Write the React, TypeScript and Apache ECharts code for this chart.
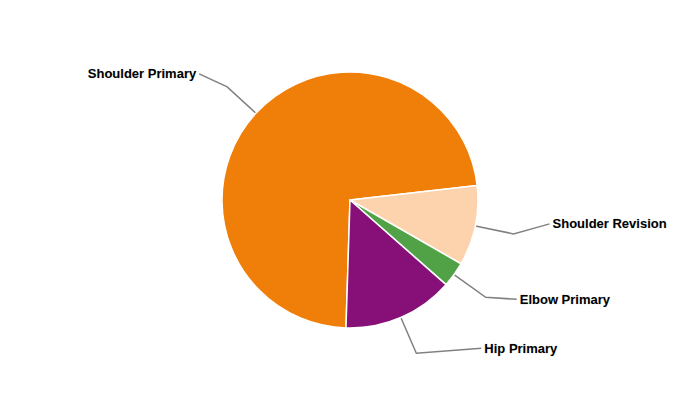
import React, { useEffect, useRef } from "react";
import * as echarts from "echarts";

const categories = ["Shoulder Primary", "Shoulder Revision", "Elbow Primary", "Hip Primary"];
const values = [72.7, 10.1, 3.2, 14.0];
const colors = ["#F07F09", "#FDD3AE", "#51A246", "#871078"];
// label end-point nudges (dx, dy) relative to the default ECharts layout
const labelShiftX = [2, 6, 1, 35];
const labelShiftY = [-13, -10, 2, -5];

export default function App() {
  const ref = useRef<HTMLDivElement>(null);
  useEffect(() => {
    if (!ref.current) return;
    const chart = echarts.init(ref.current, undefined, { renderer: "svg" });
    chart.setOption({
      animation: false,
      backgroundColor: "#ffffff",
      series: [
        {
          type: "pie",
          center: [350, 200],
          radius: 128,
          startAngle: 268.2,
          clockwise: true,
          avoidLabelOverlap: false,
          data: categories.map((name, i) => ({
            name,
            value: values[i],
            itemStyle: { color: colors[i] },
          })),
          itemStyle: { borderColor: "#ffffff", borderWidth: 1.5 },
          label: {
            show: true,
            position: "outside",
            formatter: "{b}",
            color: "#000000",
            fontFamily: "'Liberation Sans', Arial, sans-serif",
            fontWeight: "bold",
            fontSize: 13,
            textBorderColor: "rgba(0,0,0,0.25)",
            textBorderWidth: 0.4,
            distanceToLabelLine: 3,
          },
          labelLine: {
            show: true,
            length: 39,
            length2: 30,
            smooth: false,
            minTurnAngle: 0,
            maxSurfaceAngle: 180,
            lineStyle: { color: "#808080", width: 1.5 },
          },
          emphasis: { disabled: true },
          labelLayout: (params: any) => {
            const pts = params.labelLinePoints;
            if (!pts || pts.length < 3) return {};
            const i = params.dataIndex;
            const p0 = pts[0];
            const p1 = pts[1];
            const end = [pts[2][0] + labelShiftX[i], pts[2][1] + labelShiftY[i]];
            const left = end[0] < p1[0];
            return {
              x: end[0] + (left ? -3 : 3),
              y: end[1],
              align: left ? "right" : "left",
              verticalAlign: "middle",
              labelLinePoints: [p0, p1, end],
            };
          },
        },
      ],
    });
    return () => chart.dispose();
  }, []);
  return <div ref={ref} style={{ width: 700, height: 400, position: "absolute", left: 0, top: 0 }} />;
}
